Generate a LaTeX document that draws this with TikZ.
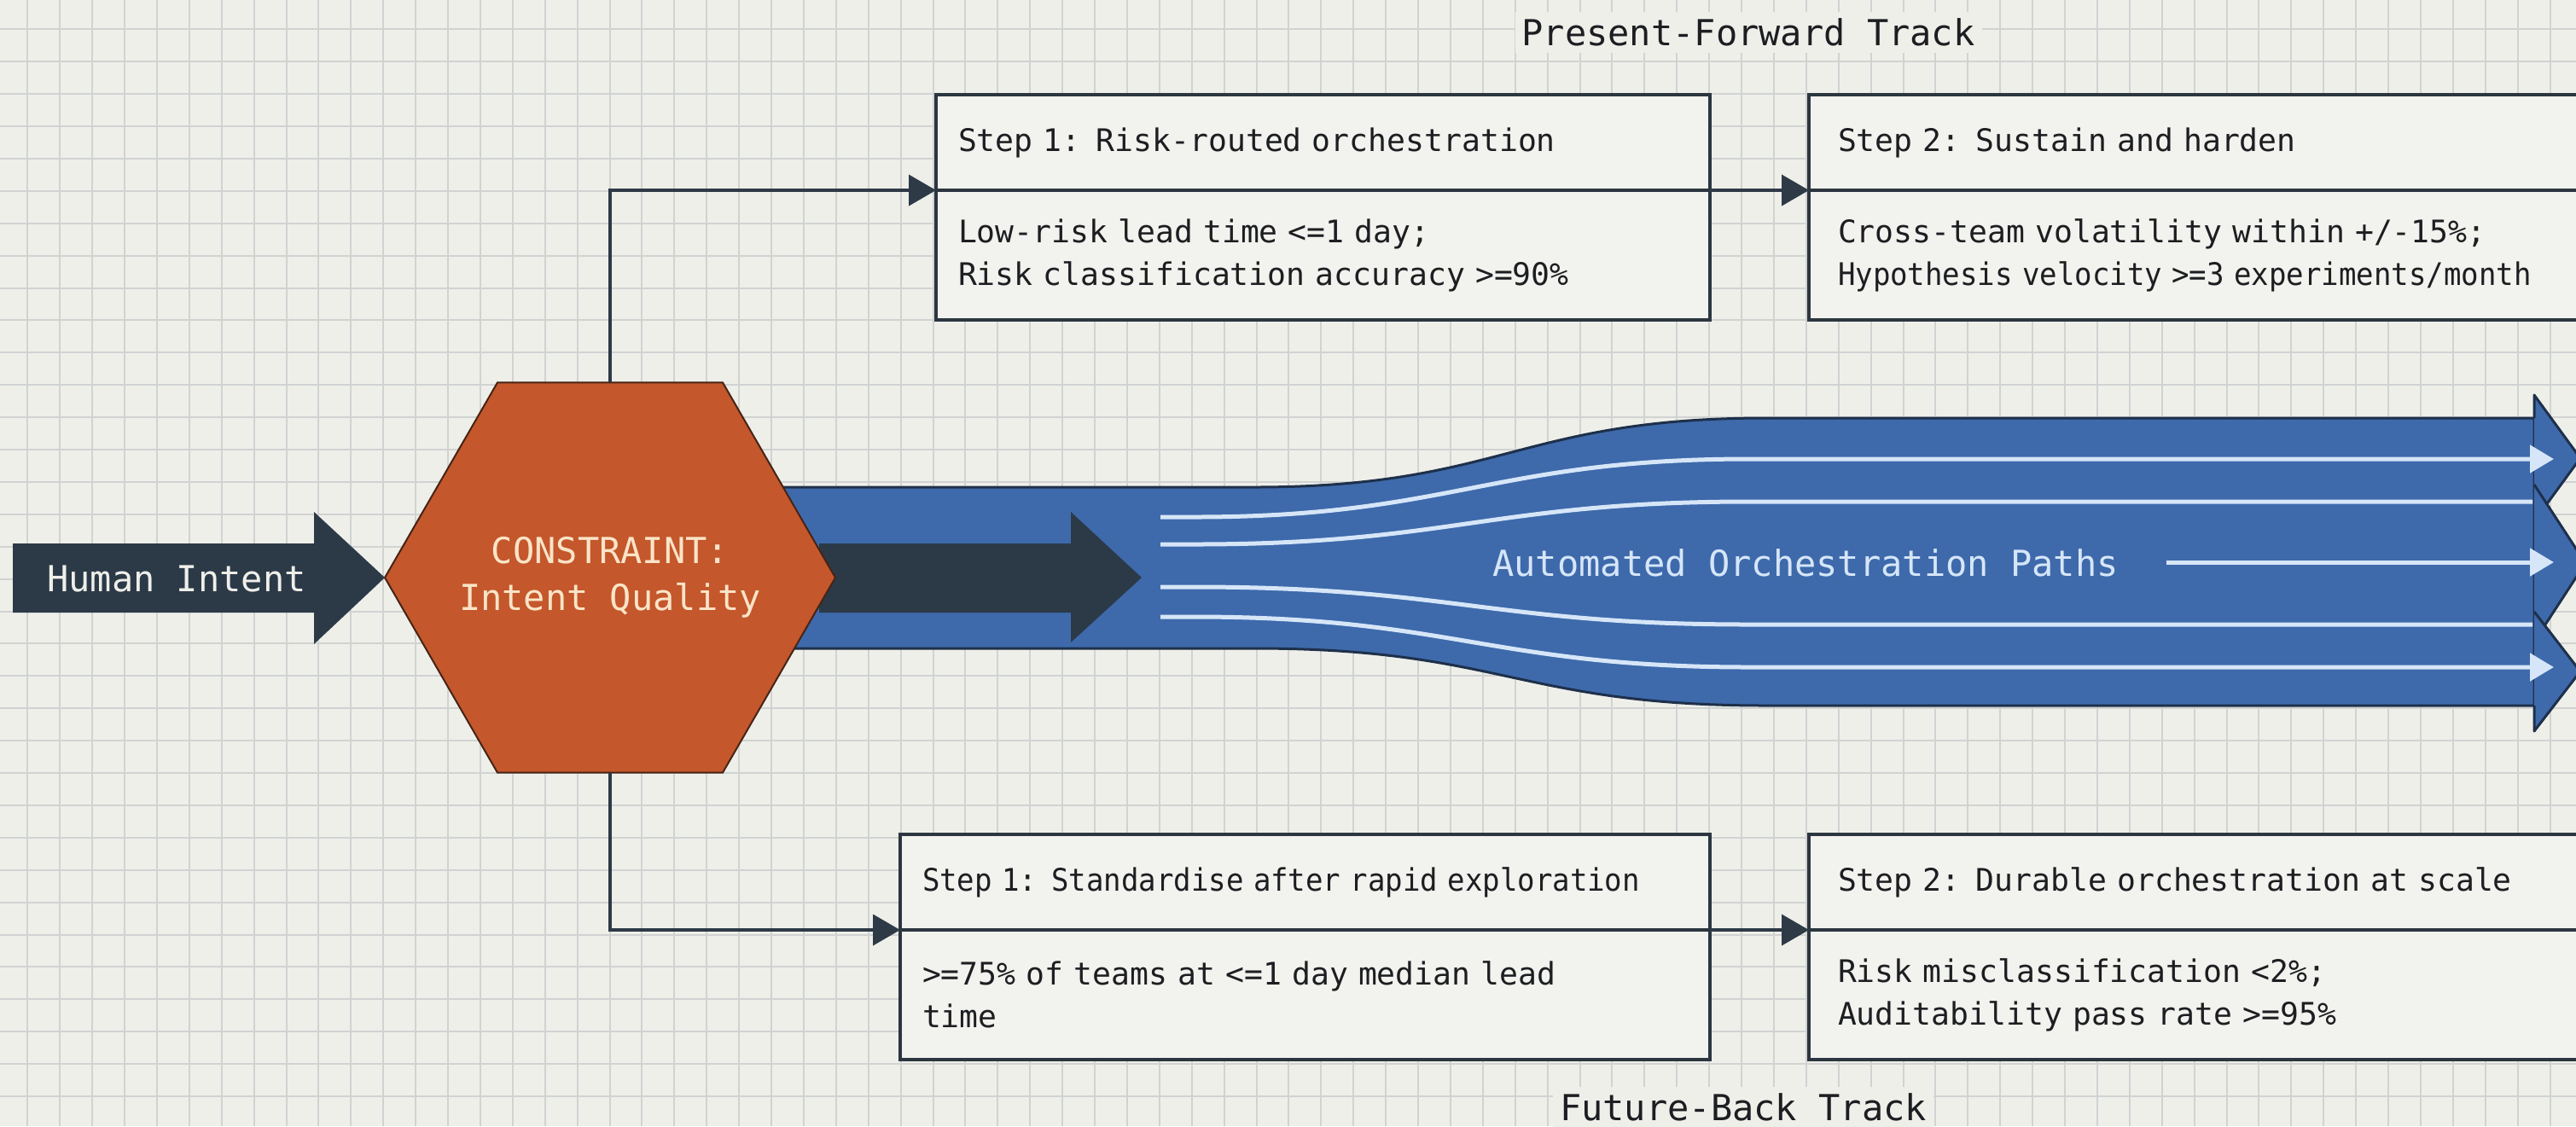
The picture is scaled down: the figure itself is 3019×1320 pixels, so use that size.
\documentclass[tikz,border=0pt]{standalone}
\usepackage{fontspec}
\usepackage{graphicx}
\setmonofont{DejaVu Sans Mono}
\usetikzlibrary{positioning,shapes.geometric,arrows.meta}

\definecolor{bgcol}{RGB}{239,239,234}
\definecolor{gridcol}{RGB}{208,211,210}
\definecolor{boxfill}{RGB}{242,242,238}
\definecolor{boxedge}{RGB}{44,54,64}
\definecolor{inkcol}{RGB}{28,30,33}
\definecolor{linkcol}{RGB}{46,58,70}
\definecolor{slate}{RGB}{44,58,72}
\definecolor{hexfill}{RGB}{196,87,43}
\definecolor{hexedge}{RGB}{70,36,22}
\definecolor{hextext}{RGB}{250,228,200}
\definecolor{bandfill}{RGB}{62,106,172}
\definecolor{bandedge}{RGB}{30,48,74}
\definecolor{flowline}{RGB}{214,230,248}

\newcommand{\txtbox}{\ttfamily\fontsize{9.1}{12.5}\selectfont}
\newcommand{\txtbig}{\ttfamily\fontsize{10.5}{13.75}\selectfont}
\newcommand{\squeeze}[1]{\scalebox{0.935}[1]{#1}}

\tikzset{
  gridline/.style={draw=gridcol, line width=0.5pt},
  link/.style={draw=linkcol, line width=1pt, -{Triangle[length=8pt,width=9pt]}},
  stephead/.style={draw=boxedge, fill=boxfill, line width=1pt, outer sep=0pt,
    inner xsep=6.5pt, inner ysep=0pt, minimum height=28pt, text width=#1,
    align=left, font=\txtbox, text=inkcol},
  stepbody/.style={stephead=#1, minimum height=38pt},
  pathline/.style={draw=flowline, line width=1.25pt},
  pathtip/.style={pathline, -{Triangle[length=7pt,width=8pt]}},
  headpart/.style={fill=bandfill, draw=bandedge, line width=0.75pt, line join=round},
  tracklabel/.style={font=\txtbig, text=inkcol, fill=bgcol, inner sep=2pt},
}

\begin{document}
\begin{tikzpicture}[x=0.25pt,y=0.25pt,yscale=-1]
\useasboundingbox (0,0) rectangle (3019,1320);
\clip (0,0) rectangle (3019,1320);
\fill[bgcol] (0,0) rectangle (3019,1320);

%Grid
\foreach \i in {0,...,78}
  \draw[gridline] ({32.3+37.9*\i},0) -- ({32.3+37.9*\i},1320);
\foreach \j in {0,...,33}
  \draw[gridline] (0,{34.3+37.9*\j}) -- (3019,{34.3+37.9*\j});

%Shape: Orchestration band
\draw[fill=bandfill, draw=bandedge, line width=0.75pt, line join=round]
  (910,571) -- (1470,571) .. controls (1760,571) and (1780,490) .. (2070,490) -- (2970,490)
  -- (2970,827) -- (2070,827) .. controls (1780,827) and (1760,760) .. (1470,760) -- (910,760) -- cycle;

%Straight Lines: paths without tips
\draw[pathline] (1360,638) -- (1400,638) .. controls (1700,638) and (1750,588) .. (2050,588) -- (2968,588);
\draw[pathline] (1360,688) -- (1400,688) .. controls (1700,688) and (1750,732) .. (2050,732) -- (2968,732);

%Shape: band heads
\fill[bandfill] (2970,463) -- (3024,537) -- (2970,611) -- cycle;
\draw[headpart, fill=none] (2970,490) -- (2970,463) -- (3024,537) -- (2970,611);
\draw[headpart] (2970,568) -- (3030,660) -- (2970,752);
\fill[bandfill] (2970,717) -- (3024,787) -- (2970,857) -- cycle;
\draw[headpart, fill=none] (2970,717) -- (3024,787) -- (2970,857) -- (2970,827);

%Straight Lines: paths with tips
\draw[pathtip] (1360,606) -- (1400,606) .. controls (1700,606) and (1750,538) .. (2050,538) -- (2993,538);
\draw[pathtip] (1360,723) -- (1400,723) .. controls (1700,723) and (1750,782) .. (2050,782) -- (2993,782);
\draw[pathtip] (2539,659) -- (2993,659);

% Text Node
\node[font=\txtbig, text=flowline] (paths) at (2116,660) {Automated Orchestration Paths};

%Shape: inner arrow
\fill[slate] (960,637) -- (1255,637) -- (1255,600) -- (1338,677) -- (1255,753) -- (1255,718) -- (960,718) -- cycle;

%Shape: Hexagon
\node[regular polygon, regular polygon sides=6, minimum size=132pt, inner sep=0pt, outer sep=0pt,
  fill=hexfill, draw=hexedge, line width=0.5pt] (hex) at (715,677) {};
% Text Node
\node[font=\txtbig, text=hextext, align=center] (hexlabel) at (hex.center) {CONSTRAINT:\\Intent Quality};

%Shape: Human Intent arrow
\fill[slate] (15,637) -- (368,637) -- (368,600) -- (hex.west) -- (368,755) -- (368,718) -- (15,718) -- cycle;
% Text Node
\node[font=\txtbig, text=bgcol] (intent) at (207,678) {Human Intent};

%Present-Forward boxes
\node[stephead=213.75pt, anchor=north west] (pfhead1) at (1097,111) {Step 1: Risk-routed orchestration};
\node[stepbody=213.75pt, below=0pt of pfhead1] (pfbody1) {Low-risk lead time <=1 day;\\Risk classification accuracy >=90\%};
\node[stephead=237pt, inner xsep=8.5pt, right=29pt of pfhead1] (pfhead2) {Step 2: Sustain and harden};
\node[stepbody=237pt, inner xsep=8.5pt, below=0pt of pfhead2] (pfbody2) {Cross-team volatility within +/-15\%;\\\squeeze{Hypothesis velocity >=3 experiments/month}};

%Future-Back boxes
\node[stephead=224.25pt, inner xsep=6.5pt, anchor=north west] (fbhead1) at (1055,978) {\squeeze{Step 1: Standardise after rapid exploration}};
\node[stepbody=224.25pt, below=0pt of fbhead1] (fbbody1) {>=75\% of teams at <=1 day median lead\\time};
\node[stephead=237pt, inner xsep=8.5pt, right=29pt of fbhead1] (fbhead2) {Step 2: Durable orchestration at scale};
\node[stepbody=237pt, inner xsep=8.5pt, below=0pt of fbhead2] (fbbody2) {Risk misclassification <2\%;\\Auditability pass rate >=95\%};

%Straight Lines: connectors
\draw[link] (hex.north) |- (pfhead1.south west);
\draw[link] (hex.south) |- (fbhead1.south west);
\draw[link] (pfhead1.south east) -- (pfhead2.south west);
\draw[link] (fbhead1.south east) -- (fbhead2.south west);

% Text Node
\node[tracklabel] (pftrack) at (2049,38) {Present-Forward Track};
% Text Node
\node[tracklabel] (fbtrack) at (2043,1298) {Future-Back Track};

\end{tikzpicture}
\end{document}
